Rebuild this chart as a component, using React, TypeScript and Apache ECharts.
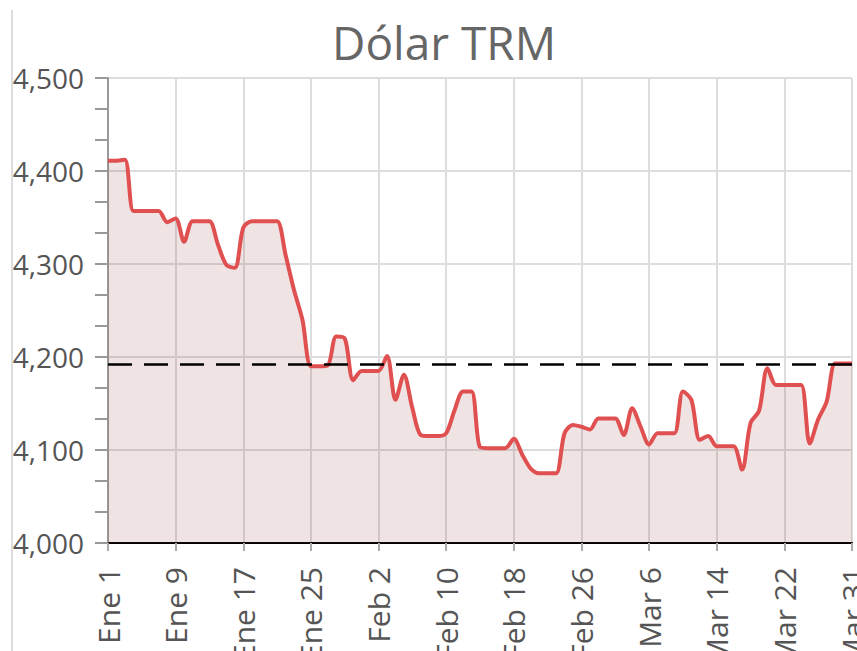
import React, { useEffect, useRef } from "react";
import * as echarts from "echarts";

const titleText = "Dólar TRM";
const monthDays: [string, number][] = [["Ene", 31], ["Feb", 28], ["Mar", 31]];
const missingDates = ["Mar 24"];
const categories: string[] = [];
monthDays.forEach(([m, n]) => {
  for (let d = 1; d <= n; d++) {
    const s = `${m} ${d}`;
    if (!missingDates.includes(s)) categories.push(s);
  }
});

const values = [
  4411, 4411, 4412, 4357, 4357, 4357, 4357, 4345, 4349, 4324,
  4346, 4346, 4346, 4321, 4299, 4296, 4339, 4346, 4346, 4346,
  4346, 4310, 4272, 4240, 4190, 4190, 4191, 4222, 4220, 4175,
  4185, 4185, 4185, 4201, 4154, 4181, 4145, 4116, 4115, 4115,
  4118, 4143, 4163, 4163, 4103, 4102, 4102, 4102, 4112, 4095,
  4080, 4075, 4075, 4075, 4118, 4127, 4125, 4122, 4134, 4134,
  4134, 4116, 4145, 4125, 4106, 4118, 4118, 4118, 4163, 4154,
  4111, 4115, 4104, 4104, 4104, 4079, 4129, 4142, 4188, 4170,
  4170, 4170, 4170, 4107, 4133, 4152, 4193, 4193, 4193,
];

const referenceValue = 4192;
const yMin = 4000;
const yMax = 4500;
const yStep = 100;

const FONT = "Open Sans";

export default function App() {
  const ref = useRef<HTMLDivElement>(null);
  useEffect(() => {
    if (!ref.current) return;
    const chart = echarts.init(ref.current, null, { renderer: "svg" });
    chart.setOption({
      animation: false,
      backgroundColor: "#ffffff",
      title: {
        text: titleText,
        left: 327,
        top: 14,
        textStyle: { fontFamily: FONT, fontSize: 46, fontWeight: "normal", color: "#666666" },
      },
      graphic: [
        {
          type: "line",
          shape: { x1: 12, y1: 10, x2: 12, y2: 651 },
          style: { stroke: "#dddddd", lineWidth: 2 },
        },
      ],
      grid: { left: 108, right: 5, top: 78, bottom: 108, containLabel: false, outerBoundsMode: "none" },
      xAxis: {
        type: "category",
        data: categories,
        boundaryGap: false,
        axisLine: { show: true, lineStyle: { color: "#000000", width: 2 } },
        axisTick: { show: true, interval: 7, length: 8, lineStyle: { color: "#aaaaaa", width: 2 } },
        axisLabel: {
          interval: 7,
          rotate: 90,
          margin: 24,
          fontFamily: FONT,
          fontSize: 30,
          color: "#555555",
        },
        splitLine: { show: true, interval: 7, lineStyle: { color: "#dddddd", width: 2 } },
      },
      yAxis: {
        type: "value",
        min: yMin,
        max: yMax,
        interval: yStep,
        axisLine: { show: true, lineStyle: { color: "#999999", width: 2 } },
        axisTick: { show: true, length: 13, lineStyle: { color: "#999999", width: 2 } },
        minorTick: { show: true, splitNumber: 3, length: 13, lineStyle: { color: "#999999", width: 2 } },
        axisLabel: {
          margin: 24,
          fontFamily: FONT,
          fontSize: 28,
          color: "#555555",
          formatter: (v: number) => v.toLocaleString("en-US"),
        },
        splitLine: { show: true, lineStyle: { color: "#dddddd", width: 2 } },
      },
      series: [
        {
          type: "line",
          data: values,
          smooth: 0.3,
          symbol: "none",
          lineStyle: { color: "#e05050", width: 4 },
          areaStyle: { color: "rgba(140,60,60,0.2)", origin: "start" },
          markLine: {
            silent: true,
            symbol: "none",
            label: { show: false },
            lineStyle: { color: "#000000", type: [24, 12], width: 2.5 },
            data: [{ yAxis: referenceValue }],
          },
          z: 3,
        },
      ],
    });
    return () => chart.dispose();
  }, []);
  return (
    <div
      ref={ref}
      style={{ position: "fixed", left: 0, top: 0, width: 857, height: 651 }}
    />
  );
}
